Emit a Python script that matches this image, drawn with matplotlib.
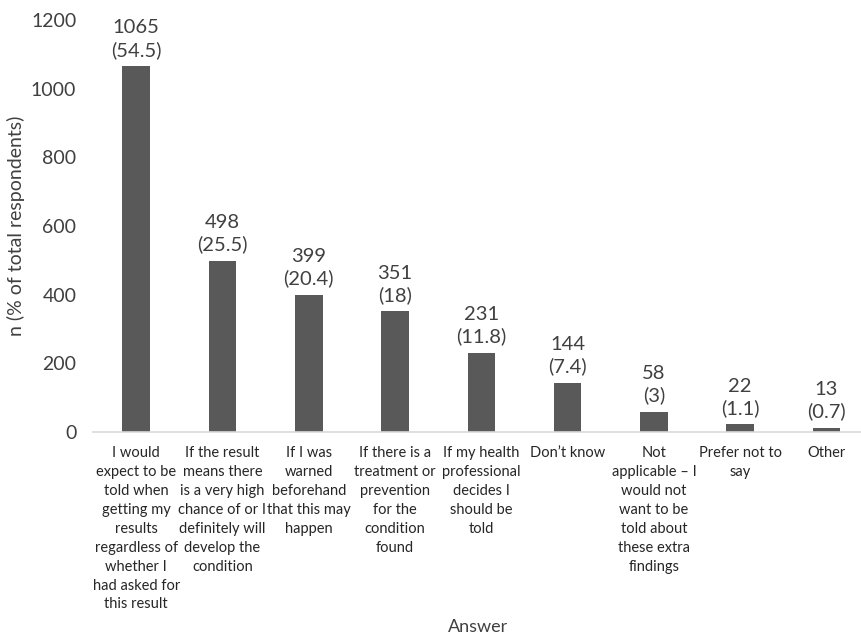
import matplotlib
matplotlib.use("Agg")
import matplotlib.pyplot as plt

plt.rcParams['font.family'] = ['Lato', 'DejaVu Sans']

answers = [
    "I would\nexpect to be\ntold when\ngetting my\nresults\nregardless of\nwhether I\nhad asked for\nthis result",
    "If the result\nmeans there\nis a very high\nchance of or I\ndefinitely will\ndevelop the\ncondition",
    "If I was\nwarned\nbeforehand\nthat this may\nhappen",
    "If there is a\ntreatment or\nprevention\nfor the\ncondition\nfound",
    "If my health\nprofessional\ndecides I\nshould be\ntold",
    "Don\u2019t know",
    "Not\napplicable \u2013 I\nwould not\nwant to be\ntold about\nthese extra\nfindings",
    "Prefer not to\nsay",
    "Other",
]
counts = [1065, 498, 399, 351, 231, 144, 58, 22, 13]
percents = ["54.5", "25.5", "20.4", "18", "11.8", "7.4", "3", "1.1", "0.7"]

fig = plt.figure(figsize=(8.61, 6.38), dpi=100)
ax = fig.add_axes([93/861, 1 - 432/638, 1 - 93/861, 412/638])

x = range(len(counts))
ax.bar(x, counts, width=0.32, color='#595959', zorder=2)

for i, (c, p) in enumerate(zip(counts, percents)):
    ax.text(i, c + 22, f"{c}\n({p})", ha='center', va='bottom',
            fontsize=14.5, color='#404040', linespacing=1.3)

ax.set_xlim(-0.5, 8.4)
ax.set_ylim(0, 1200)
ax.set_yticks(range(0, 1201, 200))
ax.set_xticks(list(x))
ax.set_xticklabels(answers, fontsize=10.5, color='#262626', linespacing=1.45)
ax.tick_params(axis='both', length=0)
ax.tick_params(axis='y', labelsize=14, labelcolor='#404040', pad=12)
ax.tick_params(axis='x', pad=10)

for s in ['top', 'right', 'left']:
    ax.spines[s].set_visible(False)
ax.spines['bottom'].set_color('#d9d9d9')
ax.spines['bottom'].set_linewidth(1.2)

ax.set_ylabel("n (% of total respondents)", fontsize=14, color='#404040')
ax.yaxis.set_label_coords(-0.088, 0.5)
fig.text(478/861, 1 - 627/638, "Answer", ha='center', va='center', fontsize=13, color='#404040')

fig.savefig("out.png", dpi=100)
